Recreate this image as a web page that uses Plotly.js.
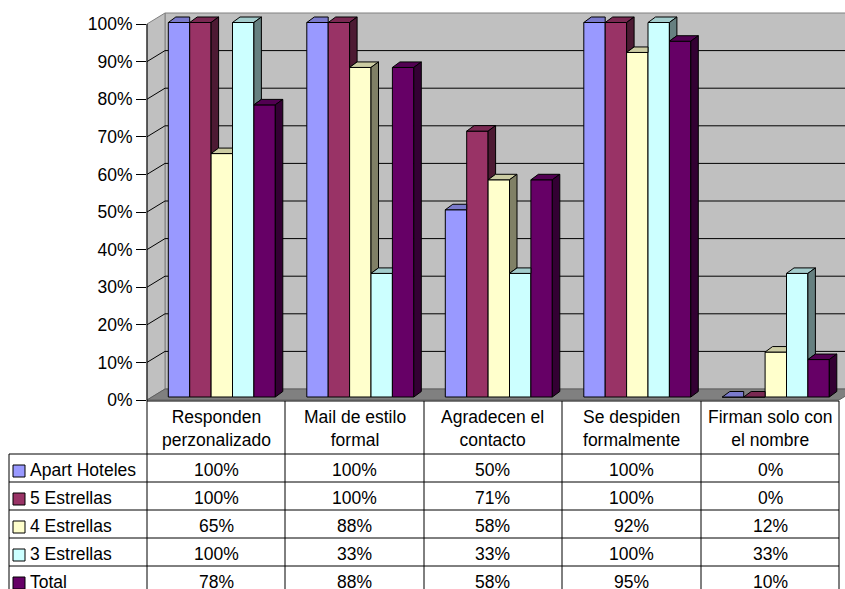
<!DOCTYPE html>
<html>
<head>
<meta charset="utf-8">
<script src="https://cdn.plot.ly/plotly-3.0.1.min.js"></script>
<style>html,body{margin:0;padding:0;background:#fff;}#chart{width:845px;height:589px;}</style>
</head>
<body>
<div id="chart"></div>
<script>
// ---------------- DATA ----------------
const categories = [
  "Responden<br>perzonalizado",
  "Mail de estilo<br>formal",
  "Agradecen el<br>contacto",
  "Se despiden<br>formalmente",
  "Firman solo con<br>el nombre"
];
const seriesNames = ["Apart Hoteles", "5 Estrellas", "4 Estrellas", "3 Estrellas", "Total"];
const apartHoteles = [100, 100, 50, 100, 0];
const cincoEstrellas = [100, 100, 71, 100, 0];
const cuatroEstrellas = [65, 88, 58, 92, 12];
const tresEstrellas = [100, 33, 33, 100, 33];
const total = [78, 88, 58, 95, 10];
const tickValues = [0, 10, 20, 30, 40, 50, 60, 70, 80, 90, 100];
const tickLabels = ["0%", "10%", "20%", "30%", "40%", "50%", "60%", "70%", "80%", "90%", "100%"];

// ---------------- STYLE ----------------
const seriesValues = [apartHoteles, cincoEstrellas, cuatroEstrellas, tresEstrellas, total];
const frontColors = ["#9999FF", "#993366", "#FFFFCC", "#CCFFFF", "#660066"];
const topColors   = ["#7A7ACC", "#7A2952", "#CCCCA3", "#A3CCCC", "#520052"];
const sideColors  = ["#4D4D80", "#4D1A33", "#808066", "#668080", "#330033"];
const FONT = "Liberation Sans, Arial, sans-serif";
const FS = 17.5;

const W = 845, H = 589;
const px = v => v / W;
const py = v => 1 - v / H;

// geometry (pixels)
const plotL = 147, plotR = 845, plotT = 13, plotB = 400;
const unit = 138.5;          // px per category
const x0px = 216;            // px of category 0 centre (front plane)
const xRange = [(plotL - x0px) / unit, (plotR - x0px) / unit];
const frontScale = 3.76;     // px per % on front plane
const yRange = [0, (plotB - plotT) / frontScale];
const barScale = 3.745, barZeroPx = 397;
const y2Range = [(barZeroPx - plotB) / barScale, (barZeroPx - plotT) / barScale];
const backOffset = 11 / frontScale; // back wall lift in front-axis units

const barW = 21.4 / unit;
const groupShift = 5.8 / unit;
const depthX = 7.5 / unit;
const depthY = 5.5 / barScale;

// ---------------- TRACES ----------------
const traces = [];
seriesValues.forEach((vals, s) => {
  traces.push({
    type: "bar",
    x: categories.map((c, i) => i),
    y: vals,
    name: seriesNames[s],
    width: barW,
    offset: groupShift - 2.5 * barW + s * barW,
    marker: {color: frontColors[s], line: {color: "#000", width: 1}},
    xaxis: "x", yaxis: "y2",
    hoverinfo: "skip"
  });
});
// 3D faces
seriesValues.forEach((vals, s) => {
  vals.forEach((v, i) => {
    const xl = i + groupShift - 2.5 * barW + s * barW;
    const xr = xl + barW;
    const next = s < seriesValues.length - 1 ? seriesValues[s + 1][i] : null;
    // top face
    let tx, ty;
    if (next !== null && next >= v) {
      tx = [xl, xr, xr, xl + depthX, xl];
      ty = [v, v, v + depthY, v + depthY, v];
    } else {
      tx = [xl, xr, xr + depthX, xl + depthX, xl];
      ty = [v, v, v + depthY, v + depthY, v];
    }
    traces.push({type: "scatter", mode: "lines", x: tx, y: ty, fill: "toself",
      fillcolor: topColors[s], line: {color: "#000", width: 1},
      xaxis: "x", yaxis: "y2", hoverinfo: "skip", showlegend: false});
    // side face
    const lo = (next === null) ? 0 : Math.max(0, next);
    if (v > lo) {
      traces.push({type: "scatter", mode: "lines",
        x: [xr, xr + depthX, xr + depthX, xr, xr],
        y: [lo, lo + depthY, v + depthY, v, lo],
        fill: "toself", fillcolor: sideColors[s], line: {color: "#000", width: 1},
        xaxis: "x", yaxis: "y2", hoverinfo: "skip", showlegend: false});
    }
  });
});

// ---------------- SHAPES ----------------
const shapes = [];
// back wall
shapes.push({type: "rect", xref: "paper", yref: "paper", layer: "below",
  x0: px(165), x1: px(846), y0: py(389), y1: py(13),
  fillcolor: "#C0C0C0", line: {color: "#808080", width: 1}});
// left wall
shapes.push({type: "path", xref: "paper", yref: "paper", layer: "below",
  path: `M ${px(147)} ${py(400)} L ${px(147)} ${py(24)} L ${px(165)} ${py(13)} L ${px(165)} ${py(389)} Z`,
  fillcolor: "#C0C0C0", line: {color: "#808080", width: 1}});
// floor
shapes.push({type: "path", xref: "paper", yref: "paper", layer: "below",
  path: `M ${px(147)} ${py(400)} L ${px(165)} ${py(389)} L ${px(857)} ${py(389)} L ${px(839)} ${py(400)} Z`,
  fillcolor: "#808080", line: {color: "#606060", width: 1}});
// gridlines (back wall + left wall diagonals)
tickValues.forEach(v => {
  if (v === 0 || v === 100) return;
  shapes.push({type: "line", xref: "paper", yref: "y", layer: "below",
    x0: px(165), x1: px(846), y0: v + backOffset, y1: v + backOffset,
    line: {color: "#000", width: 1}});
  shapes.push({type: "line", xref: "paper", yref: "y", layer: "below",
    x0: px(147), x1: px(165), y0: v, y1: v + backOffset,
    line: {color: "#000", width: 1}});
});
// front axis line
shapes.push({type: "line", xref: "paper", yref: "paper",
  x0: px(147), x1: px(147), y0: py(24), y1: py(589), line: {color: "#000", width: 1}});
// table lines
const colEdges = [147, 285, 424, 562, 701, 839];
const rowEdges = [454, 482, 510, 538, 566];
shapes.push({type: "line", xref: "paper", yref: "paper",
  x0: px(147), x1: px(839), y0: py(401), y1: py(401), line: {color: "#000", width: 1}});
rowEdges.forEach(r => shapes.push({type: "line", xref: "paper", yref: "paper",
  x0: px(9), x1: px(839), y0: py(r), y1: py(r), line: {color: "#000", width: 1}}));
shapes.push({type: "line", xref: "paper", yref: "paper",
  x0: px(9), x1: px(9), y0: py(454), y1: py(589), line: {color: "#000", width: 1}});
colEdges.slice(1).forEach(c => shapes.push({type: "line", xref: "paper", yref: "paper",
  x0: px(c), x1: px(c), y0: py(401), y1: py(589), line: {color: "#000", width: 1}}));
// legend keys
seriesNames.forEach((n, s) => {
  const cy = 468 + s * 28 + 3;
  shapes.push({type: "rect", xref: "paper", yref: "paper",
    x0: px(13), x1: px(25), y0: py(cy + 6), y1: py(cy - 6),
    fillcolor: frontColors[s], line: {color: "#000", width: 1}});
});

// ---------------- ANNOTATIONS ----------------
const annotations = [];
const colCenters = colEdges.slice(0, 5).map((c, i) => (c + colEdges[i + 1]) / 2);
categories.forEach((c, i) => {
  annotations.push({xref: "paper", yref: "paper", x: px(colCenters[i]), y: py(428),
    text: c, showarrow: false, xanchor: "center", yanchor: "middle",
    font: {family: FONT, size: FS, color: "#000"}});
});
seriesNames.forEach((n, s) => {
  const cy = 468 + s * 28 + 2;
  annotations.push({xref: "paper", yref: "paper", x: px(28), y: py(cy),
    text: n, showarrow: false, xanchor: "left", yanchor: "middle",
    font: {family: FONT, size: FS, color: "#000"}});
  seriesValues[s].forEach((v, i) => {
    annotations.push({xref: "paper", yref: "paper", x: px(colCenters[i]), y: py(cy),
      text: v + "%", showarrow: false, xanchor: "center", yanchor: "middle",
      font: {family: FONT, size: FS, color: "#000"}});
  });
});

const layout = {
  width: W, height: H,
  margin: {l: 0, r: 0, t: 0, b: 0, pad: 0},
  paper_bgcolor: "#fff", plot_bgcolor: "rgba(0,0,0,0)",
  showlegend: false,
  barmode: "overlay",
  xaxis: {domain: [px(plotL), 1], range: xRange, showgrid: false, zeroline: false,
    showticklabels: false, ticks: "", showline: false, fixedrange: true},
  yaxis: {domain: [py(plotB), py(plotT)], range: yRange, tickvals: tickValues, ticktext: tickLabels,
    ticks: "outside", ticklen: 10, tickcolor: "#000", tickwidth: 1,
    showgrid: false, zeroline: false, showline: false, fixedrange: true,
    tickfont: {family: FONT, size: FS, color: "#000"}},
  yaxis2: {overlaying: "y", anchor: "x", range: y2Range, visible: false, fixedrange: true},
  shapes: shapes,
  annotations: annotations
};

Plotly.newPlot("chart", traces, layout, {staticPlot: true, displayModeBar: false});
</script>
</body>
</html>
